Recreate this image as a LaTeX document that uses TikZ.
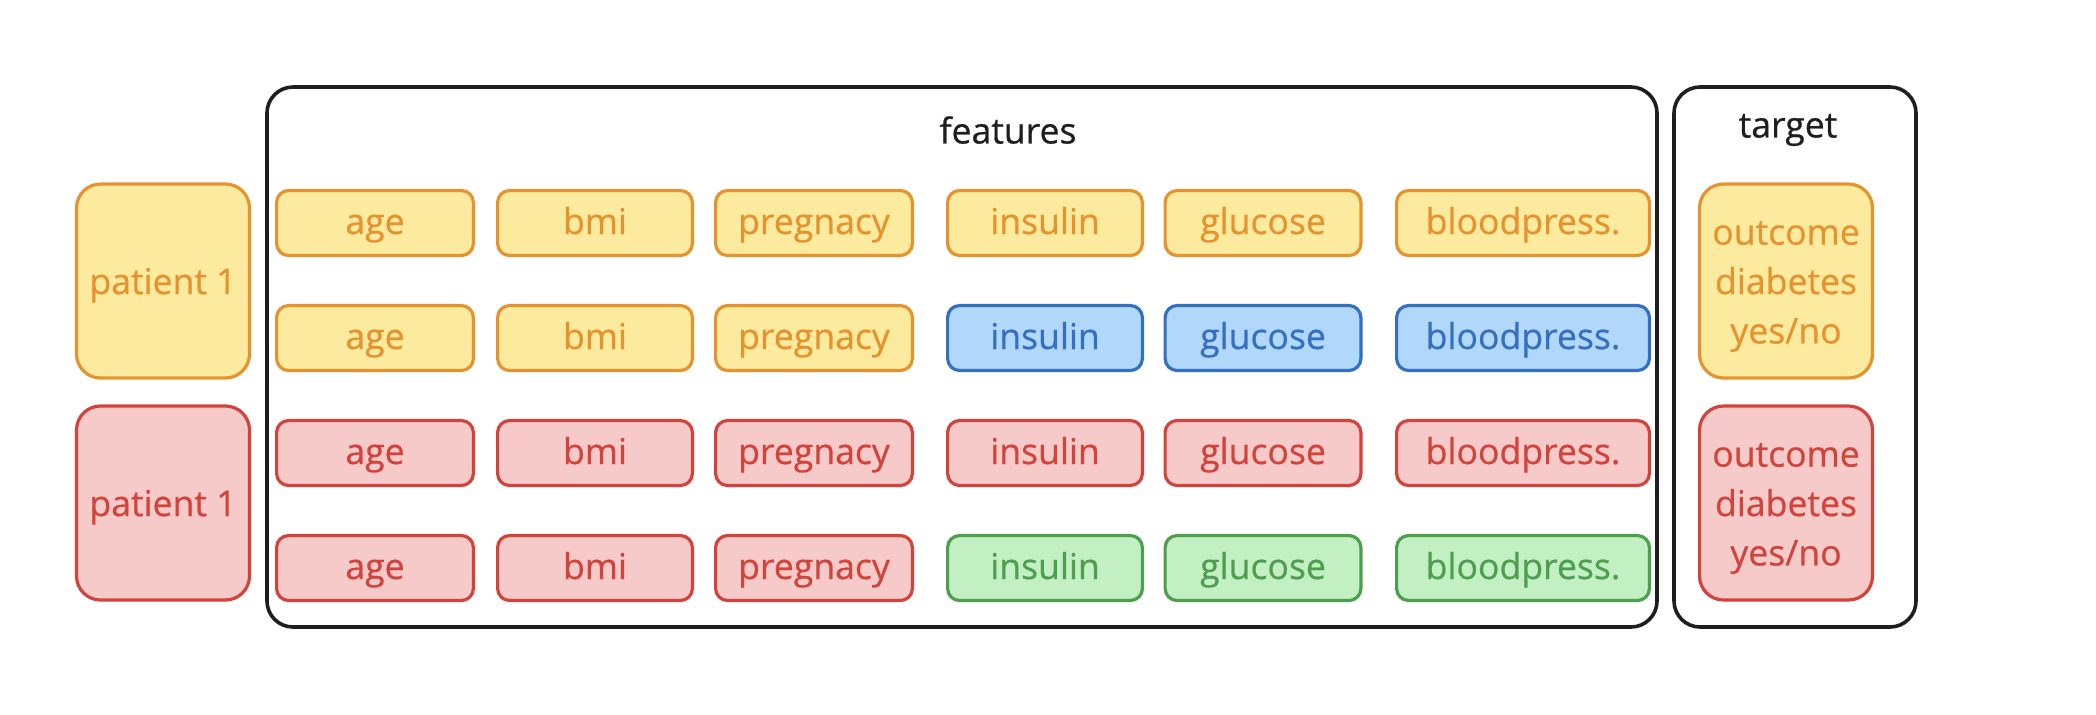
\documentclass[tikz,border=0pt]{standalone}
\usepackage{fontspec}
\setmainfont[FakeBold=0.6]{Open Sans}
\definecolor{dark}{HTML}{1E1E1E}
\definecolor{yelfill}{HTML}{FCEA9E}
\definecolor{yelline}{HTML}{E6932F}
\definecolor{yeltext}{HTML}{E6932F}
\definecolor{redfill}{HTML}{F7CACA}
\definecolor{redline}{HTML}{D2433B}
\definecolor{redtext}{HTML}{D2433B}
\definecolor{blufill}{HTML}{B1D8FB}
\definecolor{bluline}{HTML}{3470C0}
\definecolor{blutext}{HTML}{3470C0}
\definecolor{grnfill}{HTML}{C2F0C2}
\definecolor{grnline}{HTML}{4E9E50}
\definecolor{grntext}{HTML}{4E9E50}
\newcommand{\lines}[1]{\raisebox{-5.9pt}[0pt][0pt]{\begin{tabular}{@{}c@{}}#1\end{tabular}}}
\begin{document}
\begin{tikzpicture}[x=0.5pt, y=-0.5pt,
    feat/.style={draw, line width=1.6pt, rounded corners=6pt, minimum height=32.5pt, inner sep=0pt, text height=14pt, text depth=3pt, font=\fontsize{17.8}{20}\selectfont\addfontfeature{FakeBold=0.6}},
    patient/.style={draw, line width=1.6pt, rounded corners=12pt, minimum width=86.5pt, minimum height=97pt, inner sep=0pt, font=\fontsize{17.8}{24.7}\selectfont\addfontfeature{FakeBold=0.6}},
    group/.style={draw=dark, line width=1.8pt, rounded corners=13pt, inner sep=0pt},
    title/.style={text=dark, font=\fontsize{17.8}{20}\selectfont\addfontfeature{FakeBold=0.6}}]
  \useasboundingbox (0,0) rectangle (2096,714);

  % containers
  \node[group, minimum width=695pt, minimum height=270pt] (featbox) at (962,357) {};
  \node[group, minimum width=121pt, minimum height=270pt] (targetbox) at (1795,357) {};
  \node[title] (featlabel) at (1008,130) {features};
  \node[title] (targetlabel) at (1788,130) {target};

  % patients and outcomes
  \node[patient, draw=yelline, fill=yelfill, text=yeltext] (pat1) at (163,281) {\lines{patient 1}};
  \node[patient, draw=redline, fill=redfill, text=redtext] (pat2) at (163,503) {\lines{patient 1}};
  \node[patient, draw=yelline, fill=yelfill, text=yeltext] (out1) at (1786,281) {\lines{outcome\\diabetes\\yes/no}};
  \node[patient, draw=redline, fill=redfill, text=redtext] (out2) at (1786,503) {\lines{outcome\\diabetes\\yes/no}};

  % feature grid
  \foreach \r/\y/\lo/\hi in {1/223/yel/yel, 2/338/yel/blu, 3/453/red/red, 4/568/red/grn}
    \foreach \txt/\x/\w [count=\c] in {age/375/200, bmi/595/198, pregnacy/814/200, insulin/1045/198, glucose/1263/199, bloodpress./1523/256} {
      \ifnum\c<4 \let\fcol\lo \else \let\fcol\hi \fi
      \node[feat, draw=\fcol line, fill=\fcol fill, text=\fcol text, minimum width=\w*0.5pt-1.6pt] (r\r c\c) at (\x,\y) {\txt};
    }
\end{tikzpicture}
\end{document}
